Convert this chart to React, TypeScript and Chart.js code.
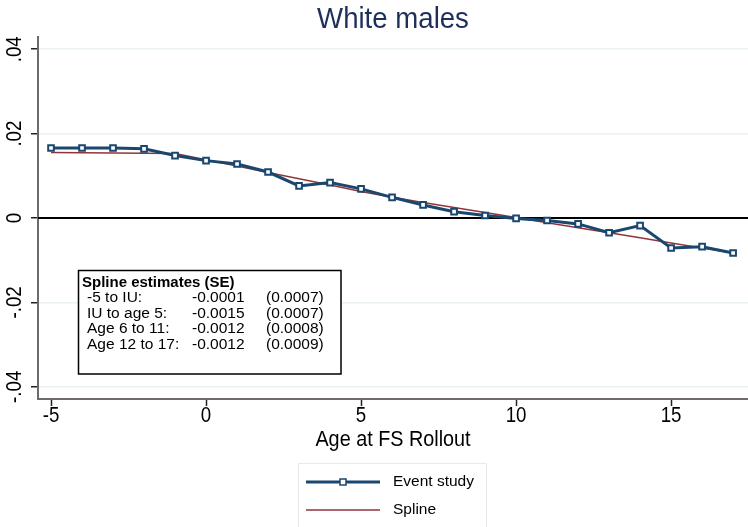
import React, { useEffect, useRef } from "react";
import { Chart, registerables } from "chart.js";

Chart.register(...registerables);

const ages = [-5, -4, -3, -2, -1, 0, 1, 2, 3, 4, 5, 6, 7, 8, 9, 10, 11, 12, 13, 14, 15, 16, 17];
const eventStudy = [0.0166, 0.0166, 0.0166, 0.0164, 0.0148, 0.0136, 0.0128, 0.0109, 0.0076, 0.0084, 0.0069, 0.0049, 0.0031, 0.0015, 0.0006, -0.0001, -0.0006, -0.0014, -0.0035, -0.0018, -0.0071, -0.0068, -0.0083];
const spline = [0.0155, 0.01545, 0.0154, 0.01535, 0.0153, 0.0138, 0.0123, 0.0108, 0.0093, 0.0078, 0.0063, 0.0049, 0.0037, 0.0025, 0.0013, 0.0001, -0.0011, -0.0023, -0.0035, -0.0047, -0.0059, -0.0071, -0.0083];
const xTicks = [-5, 0, 5, 10, 15];
const yTicks = [-0.04, -0.02, 0, 0.02, 0.04];
const yTickLabels = ["-.04", "-.02", "0", ".02", ".04"];
const insetTitle = "Spline estimates (SE)";
const insetLabels = ["-5 to IU:", "IU to age 5:", "Age 6 to 11:", "Age 12 to 17:"];
const insetValues = ["-0.0001", "-0.0015", "-0.0012", "-0.0012"];
const insetSE = ["(0.0007)", "(0.0007)", "(0.0008)", "(0.0009)"];
const titleText = "White males";
const xTitle = "Age at FS Rollout";
const legendLabels = ["Event study", "Spline"];

const NAVY = "#1a476f";
const MAROON = "#90353b";
const GRID = "#eaf2f3";
const FONT = "'Liberation Sans', Arial, Helvetica, sans-serif";

function narrow(ctx: CanvasRenderingContext2D, text: string, x: number, y: number, size: number, sx: number, align: CanvasTextAlign, color: string, rot = 0) {
  ctx.save();
  ctx.translate(x, y);
  if (rot) ctx.rotate(rot);
  ctx.scale(sx, 1);
  ctx.font = `${size}px ${FONT}`;
  ctx.fillStyle = color;
  ctx.textAlign = align;
  ctx.textBaseline = "middle";
  ctx.fillText(text, 0, 0);
  ctx.restore();
}

const decorPlugin = {
  id: "decor",
  beforeDatasetsDraw(chart: any) {
    const ctx = chart.ctx as CanvasRenderingContext2D;
    const { left, right } = chart.chartArea;
    const y0 = chart.scales.y.getPixelForValue(0);
    ctx.save();
    ctx.strokeStyle = "#000";
    ctx.lineWidth = 2;
    ctx.beginPath();
    ctx.moveTo(left, y0);
    ctx.lineTo(right, y0);
    ctx.stroke();
    ctx.restore();
  },
  afterDraw(chart: any) {
    const ctx = chart.ctx as CanvasRenderingContext2D;
    const area = chart.chartArea;
    const xs = chart.scales.x;
    const ys = chart.scales.y;

    // title
    narrow(ctx, titleText, (area.left + area.right) / 2, 20, 30, 0.92, "center", "#1e2f5c");

    // x tick labels
    xTicks.forEach((v) => {
      narrow(ctx, String(v), xs.getPixelForValue(v), 416, 22, 0.85, "center", "#000");
    });
    // x title
    narrow(ctx, xTitle, (area.left + area.right) / 2, 440, 22, 0.9, "center", "#000");

    // y tick labels (rotated)
    yTicks.forEach((v, i) => {
      narrow(ctx, yTickLabels[i], 15, ys.getPixelForValue(v), 22, 0.85, "center", "#000", -Math.PI / 2);
    });

    // inset box
    ctx.save();
    ctx.fillStyle = "#fff";
    ctx.fillRect(78, 270, 263, 104);
    ctx.strokeStyle = "#000";
    ctx.lineWidth = 1.5;
    ctx.strokeRect(78.5, 270.5, 262.5, 103.5);
    ctx.fillStyle = "#000";
    ctx.textBaseline = "middle";
    ctx.textAlign = "left";
    ctx.font = `bold 15px ${FONT}`;
    ctx.fillText(insetTitle, 82, 283);
    ctx.font = `15.5px ${FONT}`;
    const rowsY = [298, 313.5, 329, 344.5];
    insetLabels.forEach((t, i) => {
      ctx.fillText(t, 87, rowsY[i]);
      ctx.fillText(insetValues[i], 192, rowsY[i]);
      ctx.fillText(insetSE[i], 266, rowsY[i]);
    });
    ctx.restore();

    // legend
    ctx.save();
    ctx.fillStyle = "#fff";
    ctx.fillRect(298, 463, 188, 70);
    ctx.strokeStyle = "#e3ebee";
    ctx.lineWidth = 1;
    ctx.strokeRect(298.5, 463.5, 188, 70);
    ctx.strokeStyle = NAVY;
    ctx.lineWidth = 3;
    ctx.beginPath();
    ctx.moveTo(306, 482);
    ctx.lineTo(380, 482);
    ctx.stroke();
    ctx.fillStyle = "#fff";
    ctx.fillRect(340, 479, 6, 6);
    ctx.lineWidth = 1.5;
    ctx.strokeRect(340, 479, 6, 6);
    ctx.strokeStyle = MAROON;
    ctx.lineWidth = 1.5;
    ctx.beginPath();
    ctx.moveTo(306, 510);
    ctx.lineTo(380, 510);
    ctx.stroke();
    ctx.fillStyle = "#000";
    ctx.font = `15.5px ${FONT}`;
    ctx.textAlign = "left";
    ctx.textBaseline = "middle";
    ctx.fillText(legendLabels[0], 393, 482);
    ctx.fillText(legendLabels[1], 393, 510);
    ctx.restore();
  },
};

export default function App() {
  const ref = useRef<HTMLCanvasElement | null>(null);
  useEffect(() => {
    document.body.style.margin = "0";
    const canvas = ref.current;
    if (!canvas) return;
    const chart = new Chart(canvas, {
      type: "line",
      data: {
        datasets: [
          {
            label: legendLabels[1],
            data: ages.map((a, i) => ({ x: a, y: spline[i] })),
            borderColor: MAROON,
            borderWidth: 1.5,
            pointRadius: 0,
            tension: 0,
            order: 2,
          },
          {
            label: legendLabels[0],
            data: ages.map((a, i) => ({ x: a, y: eventStudy[i] })),
            borderColor: NAVY,
            borderWidth: 3,
            pointStyle: "rect",
            pointRadius: 4,
            pointBorderWidth: 2,
            pointBackgroundColor: "#fff",
            pointBorderColor: NAVY,
            tension: 0,
            order: 1,
          },
        ],
      },
      options: {
        animation: false,
        responsive: true,
        maintainAspectRatio: false,
        layout: { autoPadding: false, padding: { top: 37, left: 0, right: 0, bottom: 0 } },
        plugins: { legend: { display: false }, title: { display: false }, tooltip: { enabled: false } },
        scales: {
          x: {
            type: "linear",
            min: -5.42,
            max: 17.48,
            afterBuildTicks: (s: any) => {
              s.ticks = xTicks.map((v) => ({ value: v }));
            },
            afterFit: (s: any) => {
              s.height = 128;
            },
            ticks: { display: false },
            grid: { drawOnChartArea: false, drawTicks: true, tickLength: 7, tickColor: "#222", tickWidth: 1.5 },
            border: { display: true, color: "#6b6b6b", width: 2 },
          },
          y: {
            type: "linear",
            min: -0.0429,
            max: 0.0429,
            afterBuildTicks: (s: any) => {
              s.ticks = yTicks.map((v) => ({ value: v }));
            },
            afterFit: (s: any) => {
              s.width = 38;
            },
            ticks: { display: false },
            grid: {
              color: (c: any) => (c.tick && Math.abs(c.tick.value) < 1e-9 ? "rgba(0,0,0,0)" : GRID),
              lineWidth: 1.5,
              drawTicks: true,
              tickLength: 7,
              tickColor: "#222",
              tickWidth: 1.5,
            },
            border: { display: true, color: "#6b6b6b", width: 2 },
          },
        },
      },
      plugins: [decorPlugin],
    });
    return () => chart.destroy();
  }, []);
  return (
    <div style={{ position: "relative", width: 748, height: 527, background: "#fff" }}>
      <canvas ref={ref} width={748} height={527} />
    </div>
  );
}
